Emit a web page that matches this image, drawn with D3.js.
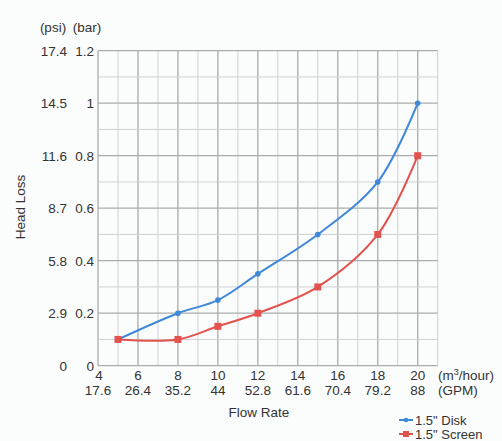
<!DOCTYPE html>
<html>
<head>
<meta charset="utf-8">
<script src="https://cdn.jsdelivr.net/npm/d3@7"></script>
<style>
html,body{margin:0;padding:0;background:#fbfcfc;}
svg{display:block;font-family:"Liberation Sans",Arial,Helvetica,sans-serif;}
</style>
</head>
<body>
<svg id="chart" width="502" height="441"></svg>
<script>
// Data
const flowM3 = [4, 6, 8, 10, 12, 14, 16, 18, 20];
const flowGPM = ["17.6", "26.4", "35.2", "44", "52.8", "61.6", "70.4", "79.2", "88"];
const barTicks = [0, 0.2, 0.4, 0.6, 0.8, 1, 1.2];
const psiTicks = ["0", "2.9", "5.8", "8.7", "11.6", "14.5", "17.4"];
const seriesNames = ['1.5" Disk', '1.5" Screen'];
const diskX = [5, 8, 10, 12, 15, 18, 20];
const diskY = [0.1, 0.2, 0.25, 0.35, 0.5, 0.7, 1.0];
const screenX = [5, 8, 10, 12, 15, 18, 20];
const screenY = [0.1, 0.1, 0.15, 0.2, 0.3, 0.5, 0.8];

const svg = d3.select("#chart");
const L = 98, R = 437.7, T = 50.7, B = 365.7;
const x = d3.scaleLinear().domain([4, 21]).range([L, R]);
const y = d3.scaleLinear().domain([0, 1.2]).range([B, T]);
const txt = "#333333";
const blue = "#3f88d8", red = "#e2534e";

// grid
const g = svg.append("g");
const vx = d3.range(4, 21.01, 1);
g.selectAll("line.v").data(vx).join("line")
  .attr("x1", d => x(d)).attr("x2", d => x(d))
  .attr("y1", T).attr("y2", B)
  .attr("stroke", d => d % 2 === 0 ? "#a9abae" : "#cfd1d3")
  .attr("stroke-width", d => d % 2 === 0 ? 1.3 : 1);
const hy = d3.range(0, 12.01, 1).map(d => d / 10);
g.selectAll("line.h").data(hy).join("line")
  .attr("x1", L).attr("x2", R)
  .attr("y1", d => y(d)).attr("y2", d => y(d))
  .attr("stroke", (d, i) => i % 2 === 0 ? "#a9abae" : "#cfd1d3")
  .attr("stroke-width", (d, i) => i % 2 === 0 ? 1.3 : 1);

// y tick labels
const fs = 13.5;
svg.append("g").selectAll("text").data(barTicks).join("text")
  .attr("x", 94).attr("y", d => y(d) + 5)
  .attr("text-anchor", "end").attr("font-size", fs).attr("fill", txt)
  .text(d => d3.format("")(d));
svg.append("g").selectAll("text").data(psiTicks).join("text")
  .attr("x", 67).attr("y", (d, i) => y(barTicks[i]) + 5)
  .attr("text-anchor", "end").attr("font-size", fs).attr("fill", txt)
  .text(d => d);
svg.append("text").attr("x", 53).attr("y", 32).attr("text-anchor", "middle")
  .attr("font-size", fs).attr("fill", txt).text("(psi)");
svg.append("text").attr("x", 87).attr("y", 32).attr("text-anchor", "middle")
  .attr("font-size", fs).attr("fill", txt).text("(bar)");

// x tick labels
svg.append("g").selectAll("text").data(flowM3).join("text")
  .attr("x", d => x(d) + (d === 4 ? 1 : 0)).attr("y", 380)
  .attr("text-anchor", "middle").attr("font-size", fs).attr("fill", txt)
  .text(d => d);
svg.append("g").selectAll("text").data(flowGPM).join("text")
  .attr("x", (d, i) => x(flowM3[i])).attr("y", 395)
  .attr("text-anchor", "middle").attr("font-size", fs).attr("fill", txt)
  .text(d => d);
const u = svg.append("text").attr("x", 438).attr("y", 380).attr("font-size", fs).attr("fill", txt);
u.append("tspan").text("(m");
u.append("tspan").attr("font-size", 9).attr("dy", -5).text("3");
u.append("tspan").attr("dy", 5).text("/hour)");
svg.append("text").attr("x", 438).attr("y", 395).attr("font-size", fs).attr("fill", txt).text("(GPM)");

// axis titles
svg.append("text").attr("x", 259).attr("y", 417).attr("text-anchor", "middle")
  .attr("font-size", fs).attr("fill", txt).text("Flow Rate");
svg.append("text").attr("transform", "translate(25,207) rotate(-90)")
  .attr("text-anchor", "middle").attr("font-size", fs).attr("fill", txt).text("Head Loss");

// lines
const line = d3.line().x(d => x(d[0])).y(d => y(d[1])).curve(d3.curveCatmullRom.alpha(0.5));
const disk = diskX.map((d, i) => [d, diskY[i]]);
const screen = screenX.map((d, i) => [d, screenY[i]]);
svg.append("path").attr("d", line(disk)).attr("fill", "none").attr("stroke", blue).attr("stroke-width", 2);
svg.append("path").attr("d", line(screen)).attr("fill", "none").attr("stroke", red).attr("stroke-width", 2);
svg.append("g").selectAll("circle").data(disk).join("circle")
  .attr("cx", d => x(d[0])).attr("cy", d => y(d[1])).attr("r", 2.8).attr("fill", blue);
svg.append("g").selectAll("rect").data(screen).join("rect")
  .attr("x", d => x(d[0]) - 3.5).attr("y", d => y(d[1]) - 3.5)
  .attr("width", 7).attr("height", 7).attr("fill", red);

// legend
const leg = svg.append("g");
[[blue, 420], [red, 434]].forEach(([c, yy], i) => {
  leg.append("line").attr("x1", 399).attr("x2", 413).attr("y1", yy).attr("y2", yy)
    .attr("stroke", c).attr("stroke-width", 2);
  if (i === 0) leg.append("circle").attr("cx", 406).attr("cy", yy).attr("r", 2.3).attr("fill", c);
  else leg.append("rect").attr("x", 403).attr("y", yy - 3).attr("width", 6).attr("height", 6).attr("fill", c);
  leg.append("text").attr("x", 415).attr("y", yy + 4.5).attr("font-size", 13).attr("fill", txt).text(seriesNames[i]);
});
</script>
</body>
</html>
